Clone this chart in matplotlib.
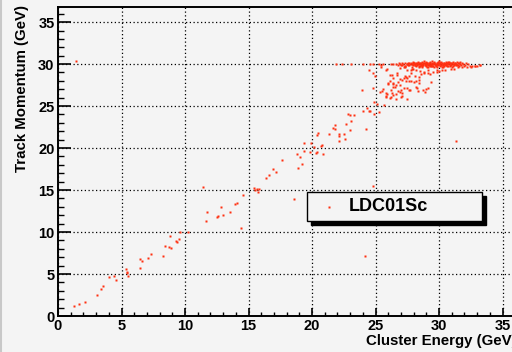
import matplotlib
matplotlib.use("Agg")
import matplotlib.pyplot as plt
from matplotlib.patches import Rectangle
from matplotlib.ticker import MultipleLocator

# ---- data ----
energy_low = [1.26, 1.68, 2.13, 3.07, 3.36, 3.54, 3.99, 4.38, 4.54, 5.35, 5.41, 5.40, 5.49,
              6.43, 6.61, 6.43, 7.06, 7.35, 8.27, 8.45, 8.74, 8.90, 8.79, 9.29, 9.37, 9.50,
              9.61, 10.2, 11.42, 11.70, 11.68, 12.55, 12.62, 12.81, 12.97, 13.54, 13.96, 14.12,
              14.41, 14.57, 15.45, 15.47, 15.70, 15.80, 15.72, 16.38, 16.61, 16.93, 17.14, 17.61,
              18.60, 18.85, 19.03, 19.19, 18.92, 19.37, 19.40, 19.84, 19.92, 20.13, 20.30, 20.40,
              20.70, 20.75, 20.84, 20.35, 20.45, 21.34, 21.65, 21.80, 22.10, 22.10, 24.80, 24.17,
              31.30, 1.42]
momentum_low = [1.19, 1.39, 1.70, 2.46, 3.21, 3.57, 4.68, 4.72, 4.25, 5.56, 5.28, 5.10, 4.80,
                6.79, 6.59, 5.71, 6.90, 7.34, 7.14, 8.37, 8.21, 8.10, 9.52, 8.97, 8.85, 9.21,
                10.0, 10.04, 15.36, 12.42, 11.27, 11.82, 11.90, 12.98, 12.06, 12.38, 13.33, 13.41,
                10.48, 14.40, 15.20, 14.95, 15.15, 15.10, 14.80, 16.47, 16.83, 17.50, 17.10, 18.57,
                13.97, 19.25, 18.96, 18.10, 17.60, 20.63, 19.68, 19.52, 20.60, 20.08, 19.40, 19.55,
                20.20, 20.35, 19.25, 21.50, 21.75, 21.70, 22.40, 22.75, 21.40, 20.90, 15.50, 7.14,
                20.87, 30.40]

energy_mid = [22.1, 22.5, 23.0, 22.6, 21.8, 22.7, 23.05, 22.8, 23.0, 23.3, 24.25, 24.0, 24.5,
              24.6, 25.3, 24.9, 24.3, 24.9, 25.1, 25.7, 23.9, 24.8, 26.0, 25.6, 25.5, 25.35,
              25.85, 24.5, 24.8, 24.96, 25.4, 25.8, 25.9, 26.1, 26.3, 26.4, 25.8, 25.9, 26.4,
              26.5, 26.8, 26.8, 26.9, 26.3, 26.6, 26.1, 26.6, 27.0, 27.2, 27.5, 27.1, 27.4,
              27.5, 27.6, 27.8, 27.8, 26.9, 27.3, 27.95, 28.1, 28.2, 28.0, 28.3, 27.7, 27.06,
              27.5, 28.35, 27.6, 28.2, 28.4, 28.4, 28.45, 28.7, 28.9, 29.0, 29.1, 29.35, 28.6,
              28.85, 29.1, 29.3, 30.2, 30.5, 30.9, 31.2, 31.8, 32.2, 32.5, 32.85, 33.25, 26.0,
              26.1, 26.2, 25.8, 26.2, 26.6, 26.9, 26.4, 26.9, 27.0, 27.1, 27.25, 27.3, 27.4,
              27.6, 27.8, 26.7, 26.7, 26.4, 26.4, 27.5, 27.9, 28.2, 28.5, 28.8, 29.1, 29.5,
              29.8, 29.8, 30.0]
momentum_mid = [21.7, 21.7, 22.1, 21.1, 22.3, 22.86, 23.2, 24.0, 23.95, 23.9, 22.3, 24.4, 24.4,
                24.45, 24.25, 24.05, 24.8, 25.5, 25.2, 25.1, 26.9, 27.1, 27.6, 27.0, 26.8, 26.7,
                26.15, 29.3, 28.9, 28.6, 29.6, 29.3, 29.45, 28.7, 28.75, 27.6, 26.5, 26.4, 27.3,
                27.25, 27.9, 26.8, 28.2, 26.5, 26.45, 26.0, 25.8, 26.1, 27.2, 27.15, 26.6, 28.0,
                28.3, 28.6, 28.9, 29.3, 29.5, 29.6, 29.4, 28.6, 28.0, 27.9, 27.2, 26.9, 26.2,
                25.8, 26.85, 26.9, 27.3, 27.7, 28.1, 28.5, 26.9, 26.7, 27.0, 27.1, 27.9, 28.8,
                28.9, 28.9, 28.8, 29.3, 29.35, 29.4, 29.45, 29.65, 29.7, 29.7, 29.8, 29.85, 27.7,
                28.0, 26.9, 26.1, 26.1, 27.5, 27.5, 26.35, 26.7, 26.9, 28.05, 28.4, 28.55, 28.5,
                28.0, 28.0, 28.7, 28.9, 27.8, 28.3, 29.3, 29.4, 29.3, 29.2, 29.1, 29.3, 29.0,
                29.1, 29.25, 29.2]

energy_band = [21.9, 22.37, 23.1, 24.0, 24.6, 24.8, 25.3, 25.4, 25.6, 26.2, 26.4,
               26.6, 26.93, 27.18, 27.44, 27.71, 27.88, 28.12, 28.27, 28.53, 28.68, 28.94, 29.07,
               29.33, 29.52, 29.68, 29.91, 30.08, 30.34, 30.49, 30.72, 30.93, 31.08, 31.31, 31.62,
               31.87, 32.31, 26.81, 27.12, 27.53, 27.76, 28.02, 28.21, 28.43, 28.58, 28.83, 29.02,
               29.19, 29.41, 29.57, 29.83, 30.02, 30.22, 30.38, 30.61, 30.79, 31.03, 31.22, 31.48,
               31.79, 32.12, 27.02, 27.31, 27.62, 27.97, 28.29, 28.51, 28.72, 28.88, 29.13, 29.28,
               29.47, 29.72, 29.88, 30.13, 30.29, 30.58, 30.88, 31.17, 31.42, 31.71, 32.04, 32.62,
               27.92, 28.31, 28.66, 28.98, 29.29, 29.61, 29.94, 30.18, 30.52, 30.81, 31.13, 31.38,
               31.68, 27.22, 27.83, 28.19, 28.62, 29.04, 29.37, 29.81, 30.24, 30.63, 31.01, 31.52,
               32.41, 27.48, 28.06, 28.47, 28.86, 29.23, 29.66, 30.04, 30.43, 30.86, 31.27, 28.14,
               28.57, 28.96, 29.36, 29.77, 30.16, 30.54, 30.97, 31.33, 32.85, 33.25, 32.95, 28.78,
               29.44, 29.98, 30.67, 29.16, 29.58, 30.31, 28.39,
               27.35, 27.67, 27.95, 28.24, 28.49, 28.77, 29.05, 29.31, 29.59, 29.86, 30.11, 30.39,
               30.66, 30.95, 31.24, 31.56, 27.58, 27.86, 28.11, 28.36, 28.64, 28.91, 29.17, 29.46,
               29.74, 30.01, 30.27, 30.56, 30.84, 31.14, 31.45, 26.75, 27.05, 27.29, 28.44, 28.69,
               28.99, 29.26, 29.53, 29.79, 30.07, 30.35, 30.71, 31.06, 31.59, 31.94]
momentum_band = [30.0, 30.0, 30.05, 30.0, 30.0, 30.05, 30.0, 29.95, 30.0, 30.0, 30.05,
                 30.02, 29.98, 30.03, 30.0, 29.97, 30.04, 30.01, 29.99, 30.02, 30.0, 29.98, 30.03,
                 30.01, 29.99, 30.02, 30.0, 30.03, 29.98, 30.01, 30.04, 29.99, 30.02, 30.0, 29.97,
                 30.01, 29.98, 30.14, 30.17, 30.13, 30.16, 30.15, 30.12, 30.17, 30.14, 30.16, 30.13,
                 30.15, 30.18, 30.14, 30.16, 30.12, 30.15, 30.17, 30.13, 30.16, 30.14, 30.18, 30.15,
                 30.12, 30.16, 29.86, 29.83, 29.87, 29.84, 29.86, 29.82, 29.85, 29.88, 29.84, 29.86,
                 29.83, 29.87, 29.85, 29.84, 29.88, 29.86, 29.83, 29.85, 29.87, 29.84, 29.86, 29.82,
                 30.24, 30.27, 30.23, 30.26, 30.25, 30.22, 30.27, 30.24, 30.26, 30.23, 30.25, 30.22,
                 30.24, 29.71, 29.68, 29.72, 29.69, 29.71, 29.73, 29.68, 29.7, 29.72, 29.69, 29.71,
                 29.74, 30.07, 30.08, 30.06, 30.09, 30.07, 30.05, 30.08, 30.06, 30.09, 30.07, 29.93,
                 29.94, 29.92, 29.95, 29.93, 29.91, 29.94, 29.92, 29.95, 29.8, 29.85, 29.75, 30.32,
                 30.31, 30.33, 30.3, 29.62, 29.6, 29.63, 29.64,
                 30.09, 30.1, 30.08, 30.11, 30.09, 30.1, 30.08, 30.11, 30.09, 30.1, 30.08, 30.11,
                 30.09, 30.1, 30.08, 30.1, 29.95, 29.96, 29.94, 29.97, 29.95, 29.96, 29.94, 29.97,
                 29.95, 29.96, 29.94, 29.97, 29.95, 29.96, 29.94, 29.9, 29.92, 29.78, 29.77, 29.79,
                 29.78, 29.77, 29.79, 29.78, 29.77, 29.79, 29.78, 29.77, 29.79, 29.78]

legend_label = "LDC01Sc"
x_title = "Cluster Energy (GeV)"
y_title = "Track Momentum (GeV)"

# ---- figure ----
W, H = 512, 352
bg = "#f4f4f4"
red = "#ff2f10"
font = "Liberation Sans"

fig = plt.figure(figsize=(W / 100, H / 100), dpi=100, facecolor=bg)
ax = fig.add_axes([58 / W, 36 / H, 470 / W, 309 / H], facecolor=bg)
ax.set_xlim(0, 37)
ax.set_ylim(0, 36.8)

ax.xaxis.set_major_locator(MultipleLocator(5))
ax.xaxis.set_minor_locator(MultipleLocator(1))
ax.yaxis.set_major_locator(MultipleLocator(5))
ax.yaxis.set_minor_locator(MultipleLocator(1))
ax.tick_params(axis="x", which="major", direction="in", length=5.5, width=1.2, pad=2.5,
               top=False, labelsize=10.5)
ax.tick_params(axis="x", which="minor", direction="in", length=3, width=1.0, top=False)
ax.tick_params(axis="y", which="major", direction="in", length=9.5, width=1.2, pad=2.5,
               right=False, labelsize=10.5)
ax.tick_params(axis="y", which="minor", direction="in", length=4.5, width=1.0, right=False)
for lab in ax.get_xticklabels() + ax.get_yticklabels():
    lab.set_fontfamily(font)
    lab.set_fontweight("bold")

for s in ax.spines.values():
    s.set_linewidth(1.4)
    s.set_color("black")
ax.spines["right"].set_visible(False)

ax.set_axisbelow(True)
ax.grid(True, which="major", linestyle=(0, (1, 2)), color="black", linewidth=0.9)

for xs, ys in ((energy_low, momentum_low), (energy_mid, momentum_mid), (energy_band, momentum_band)):
    ax.plot(xs, ys, "s", ms=2.0, color=red, mec="none", zorder=3)

# axis titles
fig.text(366 / W, 1 - 341 / H, x_title, ha="left", va="center", fontsize=10.8,
         fontweight="bold", family=font)
fig.text(22 / W, 1 - 5 / H, y_title, ha="center", va="top", rotation=90, fontsize=10.8,
         fontweight="bold", family=font)

# legend box with shadow
bx0, by0, bx1, by1 = 307, 192, 482, 221
sh = 4
fig.patches.append(Rectangle(((bx0 + sh) / W, 1 - (by1 + sh) / H), (bx1 - bx0) / W,
                             (by1 - by0) / H, transform=fig.transFigure, facecolor="black",
                             edgecolor="black", zorder=5))
fig.patches.append(Rectangle((bx0 / W, 1 - by1 / H), (bx1 - bx0) / W, (by1 - by0) / H,
                             transform=fig.transFigure, facecolor=bg, edgecolor="black",
                             linewidth=1.0, zorder=6))
fig.lines.append(plt.Line2D([329 / W], [1 - 206.7 / H], marker="s", ms=2.0, color=red,
                            mec="none", transform=fig.transFigure, zorder=7))
fig.text(388 / W, 1 - 206.5 / H, legend_label, ha="center", va="center", fontsize=13,
         fontweight="bold", family=font, zorder=7)

# thin frame line at the left edge of the canvas
fig.lines.append(plt.Line2D([1 / W, 1 / W], [0, 1], color="#c8c8c8", linewidth=1.5,
                            transform=fig.transFigure))

fig.savefig("out.png", dpi=100, facecolor=bg)
